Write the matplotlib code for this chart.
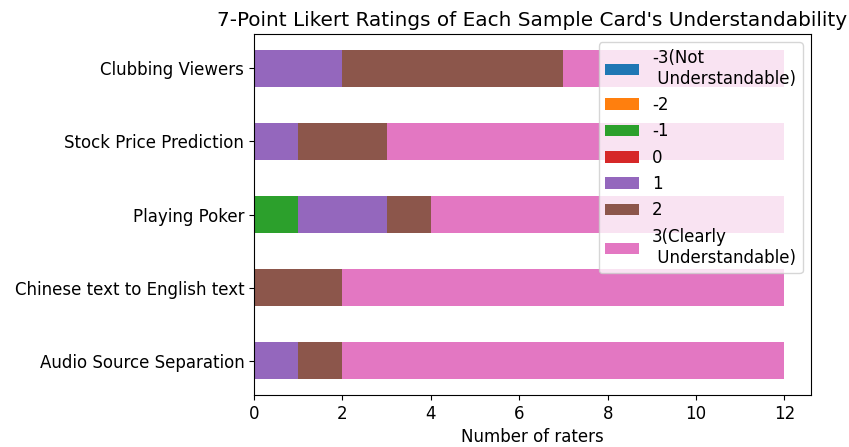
import matplotlib
matplotlib.use("Agg")
import matplotlib.pyplot as plt
import numpy as np

# Tasks, top to bottom as shown
tasks = ["Clubbing Viewers", "Stock Price Prediction", "Playing Poker",
         "Chinese text to English text", "Audio Source Separation"]
ratings = ["-3(Not\n Understandable)", "-2", "-1", "0", "1", "2",
           "3(Clearly\n Understandable)"]

# counts per rating level, one list per level, in task order
r_m3 = [0, 0, 0, 0, 0]
r_m2 = [0, 0, 0, 0, 0]
r_m1 = [0, 0, 1, 0, 0]
r_0 = [0, 0, 0, 0, 0]
r_1 = [2, 1, 2, 0, 1]
r_2 = [5, 2, 1, 2, 1]
r_3 = [5, 9, 8, 10, 10]

colors = ["#1f77b4", "#ff7f0e", "#2ca02c", "#d62728", "#9467bd", "#8c564b", "#e377c2"]

plt.rcParams["font.size"] = 12

fig = plt.figure(figsize=(8.49, 4.47), dpi=100)
ax = fig.add_axes([254 / 849, 52 / 447, (811 - 254) / 849, (395 - 34) / 447])

ypos = np.arange(len(tasks))[::-1]
left = np.zeros(len(tasks))
for vals, lab, col in zip([r_m3, r_m2, r_m1, r_0, r_1, r_2, r_3], ratings, colors):
    ax.barh(ypos, vals, height=0.5, left=left, color=col, label=lab)
    left += np.array(vals)

ax.set_yticks(ypos)
ax.set_yticklabels(tasks)
ax.set_ylim(-0.47, 4.47)
ax.set_xlim(0, 12.6)
ax.set_xticks([0, 2, 4, 6, 8, 10, 12])
ax.set_xlabel("Number of raters")
ax.set_title("7-Point Likert Ratings of Each Sample Card's Understandability")
ax.legend(loc="upper right")

fig.savefig("out.png", dpi=100)
